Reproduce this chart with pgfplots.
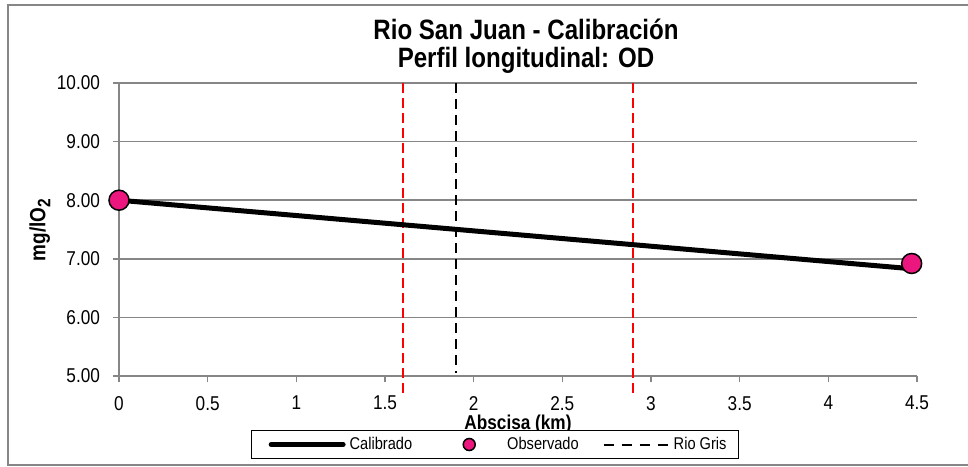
\documentclass[border=0pt]{standalone}
\usepackage{fontspec}
\setmainfont[FakeStretch=0.86]{Liberation Sans}
\usepackage{pgfplots}
\pgfplotsset{compat=1.18}

\definecolor{gridgray}{RGB}{134,134,134}
\definecolor{obspink}{RGB}{236,22,127}

\begin{document}
\begin{tikzpicture}
\begin{axis}[
    at={(0,0)}, anchor=south west,
    scale only axis,
    width=399pt, height=146.5pt,
    xmin=0, xmax=4.5, ymin=5, ymax=10,
    xtick={0,0.5,...,4.5},
    ytick={5,6,7,8,9,10},
    axis x line*=bottom, axis y line*=left,
    axis line style={draw=gridgray, line width=0.75pt},
    every tick/.style={draw=gridgray, line width=0.75pt},
    tick align=outside, major tick length=3pt,
    ymajorgrids,
    grid style={draw=gridgray, line width=0.75pt},
    clip=false,
    /pgf/number format/assume math mode=true,
    tick label style={font=\fontsize{10}{12}\selectfont},
    yticklabel style={xshift=-3pt, /pgf/number format/.cd, fixed, fixed zerofill, precision=2},
    xticklabel style={yshift=-3.5pt, /pgf/number format/.cd, fixed, precision=1},
    xlabel={\textbf{Abscisa (km)}},
    xlabel style={at={(axis description cs:0.5,0)}, anchor=center, yshift=-24pt,
                  font=\fontsize{10}{12}\selectfont},
    ylabel={\textbf{mg/lO\textsubscript{\fontsize{9}{10}\selectfont 2}}},
    ylabel style={at={(axis description cs:0,0.5)}, anchor=center, yshift=39.5pt,
                  font=\fontsize{11}{12}\selectfont},
    title={Rio San Juan - Calibración\\Perfil longitudinal: OD},
    title style={at={(axis description cs:0.51,1)}, anchor=center, yshift=12.5pt,
                 align=center, font=\fontsize{14}{14}\selectfont\bfseries},
    legend columns=3,
    legend style={at={(axis description cs:0.471,0)}, anchor=center, yshift=-34.25pt,
                  draw=black, line width=0.5pt, font=\fontsize{8.5}{10}\selectfont,
                  inner xsep=4pt, inner ysep=1pt,
                  /tikz/every even column/.append style={column sep=10pt}},
]
% lineas de referencia (rojas)
\addplot[red, line width=1pt, dash pattern=on 5pt off 2.5pt, forget plot]
    coordinates {(1.6,10) (1.6,4.71)};
\addplot[red, line width=1pt, dash pattern=on 5pt off 2.5pt, forget plot]
    coordinates {(2.9,10) (2.9,4.71)};

\addplot[black, line width=2.5pt, no markers,
    legend image code/.code={
        \path[draw=none] (0pt,0pt) -- (42pt,0pt);
        \draw[black, line width=2.5pt, line cap=round] (6pt,0pt) -- (42pt,0pt);}]
    coordinates {(0,8.00) (4.47,6.83)};
\addlegendentry{Calibrado}

\addplot[only marks, mark=*, mark size=5pt,
    mark options={fill=obspink, draw=black, line width=0.75pt},
    legend image code/.code={
        \path[draw=none] (0pt,0pt) -- (33.5pt,0pt);
        \draw[fill=obspink, draw=black, line width=0.75pt] (16.5pt,0pt) circle (3pt);}]
    coordinates {(0,8.00) (4.47,6.92)};
\addlegendentry{Observado}

\addplot[black, line width=1pt, dash pattern=on 5pt off 3pt,
    legend image code/.code={\draw[black, line width=1pt, dash pattern=on 5pt off 4pt] (0pt,0pt) -- (32.5pt,0pt);}]
    coordinates {(1.9,10) (1.9,5.05)};
\addlegendentry{Rio Gris}
\end{axis}
\pgfresetboundingbox
\useasboundingbox (-59.5pt,-45pt) rectangle (424.5pt,188pt);
\draw[gridgray, line width=0.75pt] (430pt,185.5pt) -- (-55.5pt,185.5pt) -- (-55.5pt,-44.5pt) -- (430pt,-44.5pt);
\end{tikzpicture}
\end{document}
